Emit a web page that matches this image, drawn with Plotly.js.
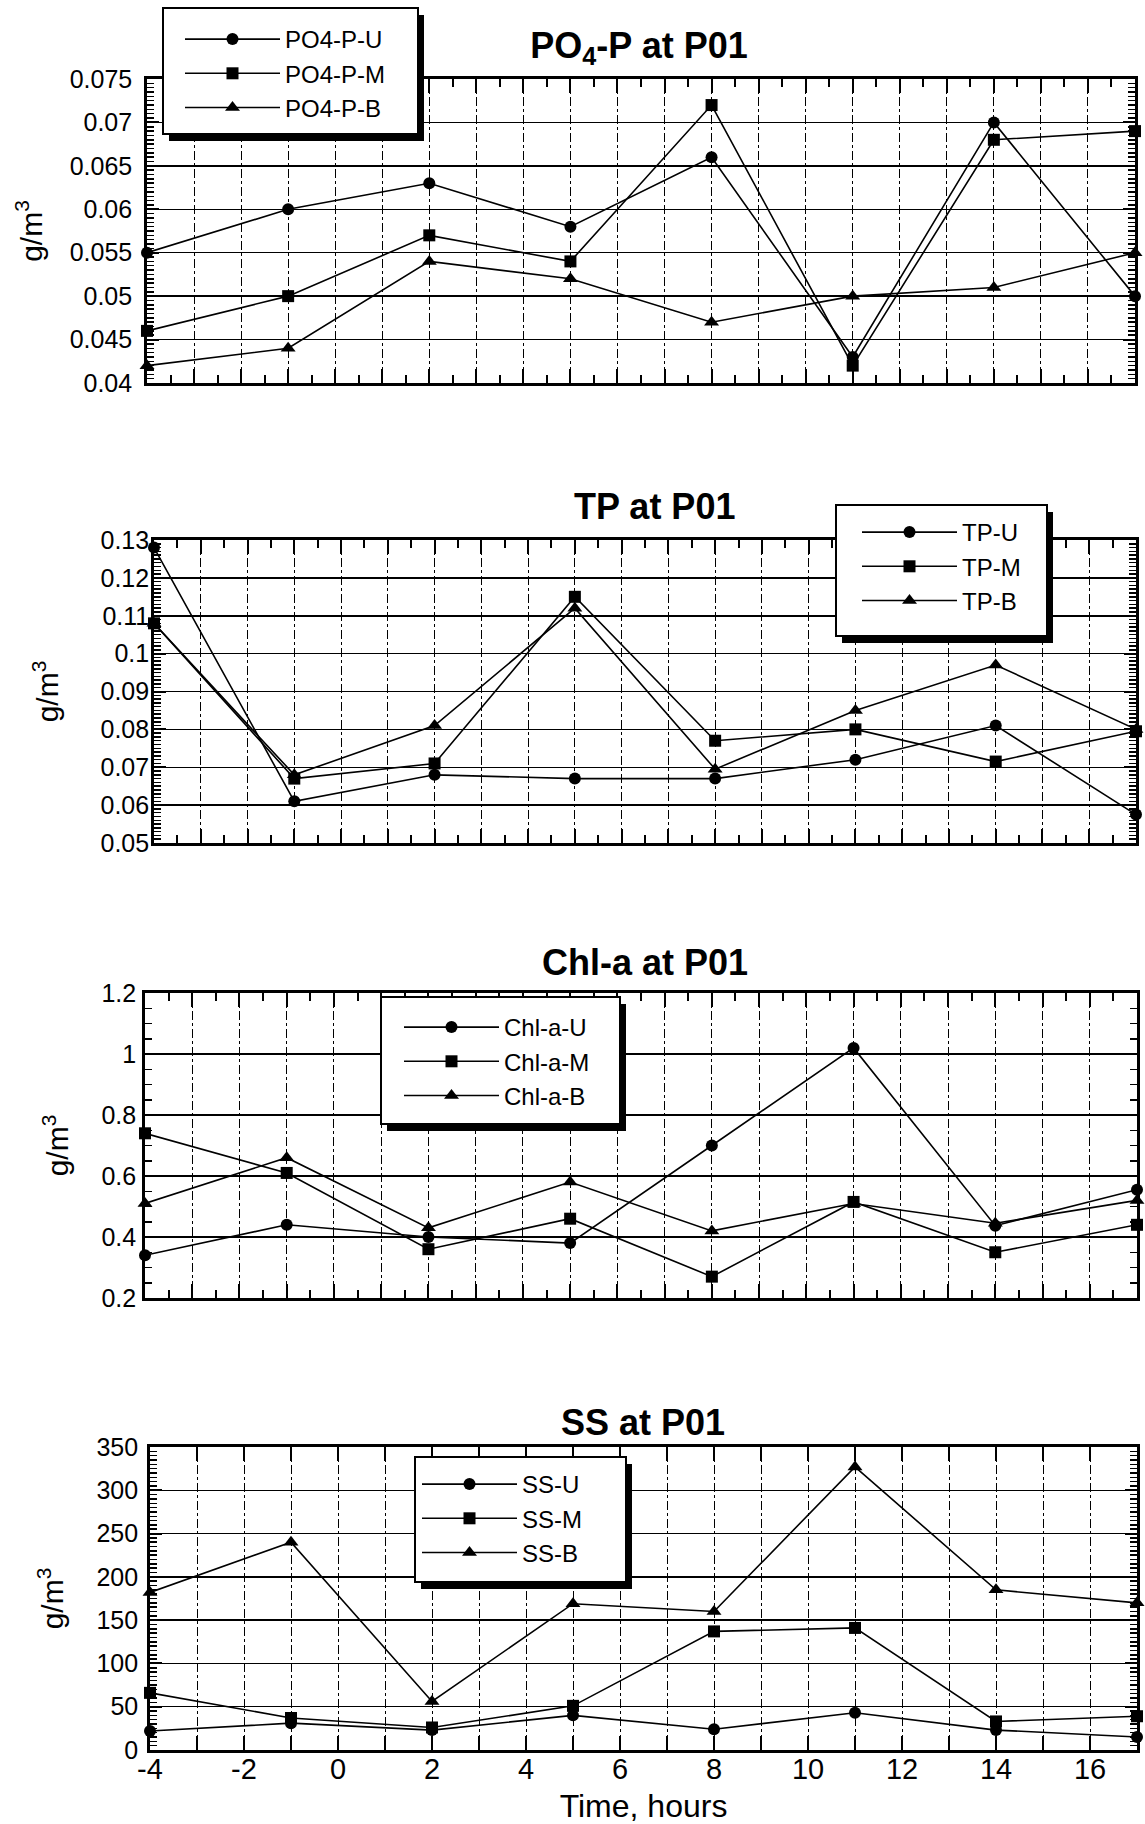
<!DOCTYPE html>
<html>
<head>
<meta charset="utf-8">
<script src="https://cdn.plot.ly/plotly-3.0.1.min.js"></script>
<style>html,body{margin:0;padding:0;background:#fff}</style>
</head>
<body>
<div id="chart" style="width:1145px;height:1824px"></div>
<script>
// ---------------- data ----------------
const hours = [-4, -1, 2, 5, 8, 11, 14, 17];

const po4Names = ['PO4-P-U', 'PO4-P-M', 'PO4-P-B'];
const po4U = [0.055, 0.060, 0.063, 0.058, 0.066, 0.043, 0.070, 0.050];
const po4M = [0.046, 0.050, 0.057, 0.054, 0.072, 0.042, 0.068, 0.069];
const po4B = [0.042, 0.044, 0.054, 0.052, 0.047, 0.050, 0.051, 0.055];

const tpNames = ['TP-U', 'TP-M', 'TP-B'];
const tpU = [0.128, 0.061, 0.068, 0.067, 0.067, 0.072, 0.081, 0.0575];
const tpM = [0.108, 0.067, 0.071, 0.115, 0.077, 0.080, 0.0715, 0.0795];
const tpB = [0.108, 0.068, 0.081, 0.112, 0.0695, 0.085, 0.097, 0.080];

const chlNames = ['Chl-a-U', 'Chl-a-M', 'Chl-a-B'];
const chlU = [0.34, 0.44, 0.40, 0.38, 0.70, 1.02, 0.437, 0.555];
const chlM = [0.74, 0.61, 0.36, 0.46, 0.27, 0.515, 0.35, 0.44];
const chlB = [0.51, 0.66, 0.43, 0.58, 0.42, 0.51, 0.445, 0.52];

const ssNames = ['SS-U', 'SS-M', 'SS-B'];
const ssU = [22, 31, 23, 40, 24, 43, 23, 15];
const ssM = [66, 37, 26, 51, 137, 141, 33, 39];
const ssB = [182, 240, 56, 169, 160, 327, 185, 170];

const panelTitles = ['PO<sub>4</sub>-P at P01', 'TP at P01', 'Chl-a at P01', 'SS at P01'];
const yTitle = 'g/m<sup>3</sup>';
const xTitle = 'Time, hours';

const xRange = [-4, 17];
const hourGridVals = [-4, -3, -2, -1, 0, 1, 2, 3, 4, 5, 6, 7, 8, 9, 10, 11, 12, 13, 14, 15, 16, 17];
const xLabelVals = [-4, -2, 0, 2, 4, 6, 8, 10, 12, 14, 16];
const xLabelText = ['-4', '-2', '0', '2', '4', '6', '8', '10', '12', '14', '16'];
const oddHourVals = [-3, -1, 1, 3, 5, 7, 9, 11, 13, 15, 17];

// ---------------- layout constants (pixels) ----------------
const W = 1145, H = 1824;
const FONT = 'Liberation Sans, Arial, Helvetica, sans-serif';
const symbols = ['circle', 'square', 'triangle-up'];
const symSizes = [12, 12, 13];

const panels = [
  { names: po4Names, ys: [po4U, po4M, po4B], range: [0.04, 0.075], dtick: 0.005, minor: 0.0005,
    plot: { l: 147, r: 1135, t: 79, b: 383 }, lbox: { l: 163, r: 418, t: 8, b: 134 },
    lorig: { x: 180, y: 17 }, title: { x: 639, y: 45 }, standoff: 7, tstand: 19 },
  { names: tpNames, ys: [tpU, tpM, tpB], range: [0.05, 0.13], dtick: 0.01, minor: 0.001,
    plot: { l: 154, r: 1136, t: 540, b: 843 }, lbox: { l: 836, r: 1047, t: 505, b: 636 },
    lorig: { x: 857, y: 510 }, title: { x: 654, y: 506 }, standoff: -3, tstand: 33 },
  { names: chlNames, ys: [chlU, chlM, chlB], range: [0.2, 1.2], dtick: 0.2, minor: 0.05,
    plot: { l: 145, r: 1137, t: 993, b: 1298 }, lbox: { l: 381, r: 620, t: 997, b: 1124 },
    lorig: { x: 399, y: 1005 }, title: { x: 645, y: 962 }, standoff: 1, tstand: 24 },
  { names: ssNames, ys: [ssU, ssM, ssB], range: [0, 350], dtick: 50, minor: 5,
    plot: { l: 150, r: 1137, t: 1447, b: 1750 }, lbox: { l: 415, r: 626, t: 1457, b: 1582 },
    lorig: { x: 417, y: 1462 }, title: { x: 643, y: 1422 }, standoff: 4, tstand: 24 }
];

const data = [];
const layout = {
  width: W, height: H, autosize: false,
  margin: { l: 0, r: 0, t: 0, b: 0, pad: 0 },
  paper_bgcolor: '#fff', plot_bgcolor: '#fff',
  font: { family: FONT, color: '#000', size: 24 },
  showlegend: true,
  shapes: [], annotations: []
};

const frame = {
  showline: true, linewidth: 2.8, linecolor: '#000', mirror: 'allticks',
  ticks: 'inside', tickcolor: '#000', zeroline: false, fixedrange: true
};

panels.forEach((p, i) => {
  const n = i === 0 ? '' : String(i + 1);
  const xa = 'x' + n, ya = 'y' + n, lg = 'legend' + n;
  const last = i === panels.length - 1;
  p.ys.forEach((yv, j) => {
    data.push({
      x: hours, y: yv, xaxis: xa, yaxis: ya, legend: lg,
      name: p.names[j], type: 'scatter', mode: 'lines+markers',
      line: { color: '#000', width: 1.6 },
      marker: { symbol: symbols[j], size: symSizes[j], color: '#000' },
      cliponaxis: false, hoverinfo: 'x+y+name'
    });
  });

  const xgrid = { showgrid: true, gridcolor: '#000', gridwidth: 1, griddash: 'dashdot' };
  if (!last) {
    layout['xaxis' + n] = Object.assign({}, frame, xgrid, {
      domain: [p.plot.l / W, p.plot.r / W], anchor: ya, range: xRange,
      tickmode: 'array', tickvals: hourGridVals, showticklabels: false,
      ticklen: 14, tickwidth: 2,
      minor: { tickmode: 'linear', tick0: -4, dtick: 0.5, ticks: 'inside', ticklen: 8,
               tickwidth: 2, tickcolor: '#000', showgrid: false }
    });
  } else {
    // labelled even hours, dash-dot grid on every hour
    layout['xaxis' + n] = Object.assign({}, frame, xgrid, {
      domain: [p.plot.l / W, p.plot.r / W], anchor: ya, range: xRange,
      tickmode: 'array', tickvals: xLabelVals, ticktext: xLabelText,
      tickfont: { size: 29, family: FONT, color: '#000' }, ticklabelstandoff: -9,
      ticklen: 14, tickwidth: 2,
      minor: Object.assign({ tickmode: 'array', tickvals: oddHourVals, ticks: 'inside', ticklen: 14,
               tickwidth: 2, tickcolor: '#000' }, xgrid),
      title: { text: xTitle, font: { size: 32, family: FONT, color: '#000' }, standoff: 18 }
    });
    // half-hour tick marks on an overlaid, label-free axis
    layout.xaxis5 = Object.assign({}, frame, {
      overlaying: xa, anchor: ya, range: xRange, showline: false,
      tickmode: 'linear', tick0: -4, dtick: 0.5, ticklen: 8, tickwidth: 2,
      showticklabels: false, showgrid: false
    });
  }

  layout['yaxis' + n] = Object.assign({}, frame, {
    domain: [1 - p.plot.b / H, 1 - p.plot.t / H], anchor: xa, range: p.range,
    tickmode: 'linear', tick0: p.range[0], dtick: p.dtick,
    tickfont: { size: 25, family: FONT, color: '#000' }, ticklabelstandoff: p.standoff,
    ticklen: 12, tickwidth: 2,
    showgrid: true, gridcolor: '#000', gridwidth: 1.5,
    minor: { tickmode: 'linear', tick0: p.range[0], dtick: p.minor, ticks: 'inside', ticklen: 7,
             tickwidth: 1.5, tickcolor: '#000', showgrid: false },
    title: { text: yTitle, font: { size: 30, family: FONT, color: '#000' }, standoff: p.tstand }
  });

  // legend box with drop shadow
  const b = p.lbox;
  layout.shapes.push({ type: 'rect', xref: 'paper', yref: 'paper', layer: 'above',
    x0: (b.l + 6) / W, x1: (b.r + 6) / W, y0: 1 - (b.b + 7) / H, y1: 1 - (b.t + 7) / H,
    fillcolor: '#000', line: { width: 0 } });
  layout.shapes.push({ type: 'rect', xref: 'paper', yref: 'paper', layer: 'above',
    x0: b.l / W, x1: b.r / W, y0: 1 - b.b / H, y1: 1 - b.t / H,
    fillcolor: '#fff', line: { color: '#000', width: 2 } });

  layout[lg] = {
    x: p.lorig.x / W, y: 1 - p.lorig.y / H, xref: 'paper', yref: 'paper',
    xanchor: 'left', yanchor: 'top', bgcolor: 'rgba(0,0,0,0)', borderwidth: 0,
    font: { size: 24, family: FONT, color: '#000' }, itemwidth: 95, tracegroupgap: 0,
    traceorder: 'normal', itemclick: false, itemdoubleclick: false
  };

  const tfont = { size: 36, family: FONT, color: '#000', weight: 'bold' };
  if (i === 0) {
    layout.title = { text: panelTitles[0], font: tfont, x: p.title.x / W, xref: 'paper',
      xanchor: 'center', y: 1 - p.title.y / H, yref: 'paper', yanchor: 'middle' };
  } else {
    layout.annotations.push({ text: panelTitles[i], font: tfont, showarrow: false,
      x: p.title.x / W, y: 1 - p.title.y / H, xref: 'paper', yref: 'paper',
      xanchor: 'center', yanchor: 'middle' });
  }
});

Plotly.newPlot('chart', data, layout, { displayModeBar: false, staticPlot: true });
</script>
</body>
</html>
